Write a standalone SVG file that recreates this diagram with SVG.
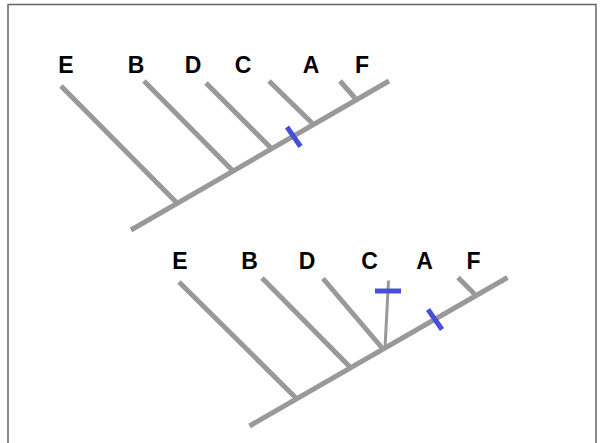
<svg xmlns="http://www.w3.org/2000/svg" width="600" height="443" viewBox="0 0 600 443">
<style>
.frame{fill:#fff;stroke:#666;stroke-width:1.5}
.br{stroke:#999;stroke-width:5;fill:none}
.thin{stroke:#999;stroke-width:3;fill:none}
.mk{stroke:#4650d6;stroke-width:5;fill:none}
.lbl{font-family:"Liberation Sans",Arial,sans-serif;font-size:23px;font-weight:bold;fill:#000;text-anchor:middle}
</style>
<rect class="frame" x="8" y="4.5" width="588" height="460"/>
<g id="connectors">
<g id="tree1">
<line class="br" x1="131" y1="230" x2="389" y2="81"/>
<line class="br" x1="61" y1="86" x2="177" y2="203"/>
<line class="br" x1="144" y1="81" x2="232" y2="170"/>
<line class="br" x1="206" y1="83" x2="271" y2="148"/>
<line class="br" x1="269" y1="81" x2="312" y2="123"/>
<line class="br" x1="340" y1="81" x2="355" y2="98"/>
<line class="mk" x1="287" y1="127" x2="300.5" y2="146.5"/>
</g>
<g id="tree2">
<line class="br" x1="249.5" y1="426" x2="507.5" y2="277.5"/>
<line class="br" x1="179" y1="282" x2="296" y2="398"/>
<line class="br" x1="262" y1="278" x2="350" y2="367"/>
<line class="br" x1="323" y1="278.5" x2="383" y2="349"/>
<line class="thin" x1="388.5" y1="280.5" x2="385" y2="348"/>
<line class="br" x1="458" y1="277.5" x2="474.5" y2="294"/>
<line class="mk" x1="375" y1="291" x2="401" y2="291"/>
<line class="mk" x1="428" y1="309.5" x2="442" y2="329.5"/>
</g>
</g>
<g id="labels1">
<text class="lbl" x="66" y="73">E</text>
<text class="lbl" x="136" y="73">B</text>
<text class="lbl" x="193" y="73">D</text>
<text class="lbl" x="243" y="73">C</text>
<text class="lbl" x="311" y="73">A</text>
<text class="lbl" x="362" y="73">F</text>
</g>
<g id="labels2">
<text class="lbl" x="180" y="269">E</text>
<text class="lbl" x="249.5" y="269">B</text>
<text class="lbl" x="307" y="269">D</text>
<text class="lbl" x="369.5" y="269">C</text>
<text class="lbl" x="424.5" y="269">A</text>
<text class="lbl" x="473.5" y="269">F</text>
</g>
</svg>
